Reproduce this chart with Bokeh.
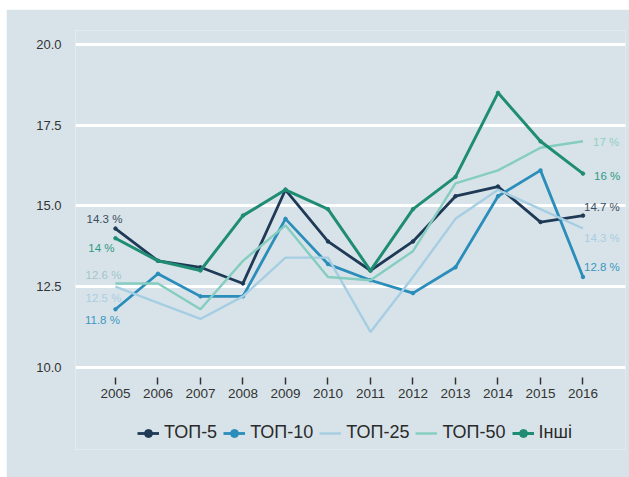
from bokeh.plotting import figure
from bokeh.models import ColumnDataSource, FixedTicker, Legend, LegendItem, NumeralTickFormatter, Range1d
from bokeh.core.properties import value
from bokeh.embed import file_html
from bokeh.resources import INLINE

# Share of the banking market by group, %
years = [2005, 2006, 2007, 2008, 2009, 2010, 2011, 2012, 2013, 2014, 2015, 2016]
top5 = [14.3, 13.3, 13.1, 12.6, 15.5, 13.9, 13.0, 13.9, 15.3, 15.6, 14.5, 14.7]
top10 = [11.8, 12.9, 12.2, 12.2, 14.6, 13.2, 12.7, 12.3, 13.1, 15.3, 16.1, 12.8]
top25 = [12.5, 12.0, 11.5, 12.2, 13.4, 13.4, 11.1, 12.8, 14.6, 15.5, 14.9, 14.3]
top50 = [12.6, 12.6, 11.8, 13.3, 14.4, 12.8, 12.7, 13.6, 15.7, 16.1, 16.8, 17.0]
other = [14.0, 13.3, 13.0, 14.7, 15.5, 14.9, 13.0, 14.9, 15.9, 18.5, 17.0, 16.0]

series_names = ["ТОП-5", "ТОП-10", "ТОП-25", "ТОП-50", "Інші"]
y_ticks = [10.0, 12.5, 15.0, 17.5, 20.0]

BG = "#d8e3e9"
FONT = "Liberation Sans"
TEXT = "#333333"

# The frame runs down to the legend row; the year axis is pinned just under 10.0
Y_AXIS_AT = 9.69
p = figure(frame_width=550, frame_height=419, output_backend="svg", toolbar_location=None,
           x_range=Range1d(2004.06, 2017.0), y_range=Range1d(7.46, 20.43),
           background_fill_color=BG, border_fill_color=BG, outline_line_color=None,
           min_border_left=69, min_border_right=4, min_border_top=21, min_border_bottom=28,
           margin=(9, 0, 0, 6))

p.xgrid.grid_line_color = None
p.ygrid.grid_line_color = "white"
p.ygrid.grid_line_width = 3
p.ygrid.ticker = FixedTicker(ticks=y_ticks)

p.yaxis.ticker = FixedTicker(ticks=y_ticks)
p.yaxis.formatter = NumeralTickFormatter(format="0.0")
p.yaxis.axis_line_color = None
p.yaxis.major_tick_line_color = None
p.yaxis.minor_tick_line_color = None
p.yaxis.major_label_standoff = 8
p.yaxis.major_label_text_font = FONT
p.yaxis.major_label_text_font_size = "13px"
p.yaxis.major_label_text_color = TEXT

p.xaxis.ticker = FixedTicker(ticks=years)
p.xaxis.fixed_location = Y_AXIS_AT
p.xaxis.axis_line_color = None
p.xaxis.minor_tick_line_color = None
p.xaxis.major_tick_line_color = TEXT
p.xaxis.major_tick_line_width = 1.5
p.xaxis.major_tick_in = 0
p.xaxis.major_tick_out = 7
p.xaxis.major_label_standoff = 5
p.xaxis.major_label_text_font = FONT
p.xaxis.major_label_text_font_size = "13.5px"
p.xaxis.major_label_text_color = TEXT

styles = [
    (top5, "#1f3a56", 2.8, True),
    (top10, "#2a8dba", 2.8, True),
    (top25, "#a6cee3", 2.4, False),
    (top50, "#84cdc0", 2.4, False),
    (other, "#1f8c74", 3.0, True),
]

items = []
for name, (vals, color, lw, dots) in zip(series_names, styles):
    src = ColumnDataSource(dict(x=years, y=vals))
    rs = [p.line("x", "y", source=src, line_color=color, line_width=lw)]
    if dots:
        rs.append(p.scatter("x", "y", source=src, size=3.5, marker="circle",
                            fill_color=color, line_color=color))
    items.append(LegendItem(label=name, renderers=rs))

# End-point value labels: (series values, index, text, colour, dx, dy, align)
labels = [
    (top5, 0, "14.3 %", "#3b4d60", -11, -10, "center"),
    (other, 0, "14 %", "#2f9a82", -14, 10, "center"),
    (top50, 0, "12.6 %", "#a4c4ca", -12, -8, "center"),
    (top25, 0, "12.5 %", "#a9cde2", -12, 11, "center"),
    (top10, 0, "11.8 %", "#3a98c0", -13, 11, "center"),
    (top50, 11, "17 %", "#93cfc4", 10, 1, "left"),
    (other, 11, "16 %", "#2f9a82", 11, 2, "left"),
    (top5, 11, "14.7 %", "#3b4d60", 1, -9, "left"),
    (top25, 11, "14.3 %", "#a9cde2", 1, 9, "left"),
    (top10, 11, "12.8 %", "#3a98c0", 1, -10, "left"),
]
for vals, i, txt, color, dx, dy, align in labels:
    p.text(x=[years[i]], y=[vals[i]], text=[txt], x_offset=dx, y_offset=dy,
           text_align=align, text_baseline="middle", text_color=color,
           text_font=value(FONT), text_font_size="11.5px")

legend = Legend(items=items, orientation="horizontal", location=(62, 6),
                background_fill_alpha=0, border_line_color=None,
                label_text_font=FONT, label_text_font_size="18px",
                label_text_color="#2a2a2a", glyph_width=22, spacing=6,
                label_standoff=5, margin=0, padding=0)
p.add_layout(legend)

open("out.html", "w").write(file_html(p, INLINE))
